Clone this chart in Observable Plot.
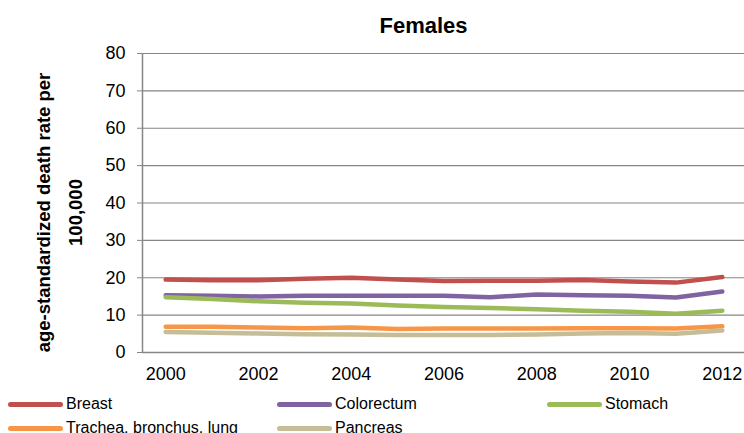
<!DOCTYPE html>
<html>
<head>
<meta charset="utf-8">
<script src="https://cdn.jsdelivr.net/npm/d3@7"></script>
<script src="https://cdn.jsdelivr.net/npm/@observablehq/plot@0.6"></script>
<style>
  html, body { margin: 0; padding: 0; background: #fff; }
  #wrap { position: relative; width: 744px; height: 433px; overflow: hidden; font-family: "Liberation Sans", Arial, sans-serif; }
  #title { position: absolute; left: 323.5px; width: 200px; top: 14px; line-height: 24px; text-align: center; font-weight: bold; font-size: 22px; color: #000; }
  #chart { position: absolute; left: 0; top: 40px; }
  .leg { position: absolute; display: flex; align-items: center; font-size: 16px; color: #000; white-space: nowrap; }
  .sw { display: inline-block; width: 55px; height: 5px; border-radius: 3px; margin-right: 3px; }
</style>
</head>
<body>
<div id="wrap">
  <div id="title">Females</div>
  <div id="chart"></div>
  <div id="legend"></div>
</div>
<script>
const years = [2000, 2001, 2002, 2003, 2004, 2005, 2006, 2007, 2008, 2009, 2010, 2011, 2012];
const seriesNames = ["Breast", "Colorectum", "Stomach", "Trachea, bronchus, lung", "Pancreas"];
const breast     = [19.5, 19.3, 19.3, 19.7, 20.0, 19.5, 19.1, 19.2, 19.2, 19.4, 19.0, 18.7, 20.2];
const colorectum = [15.3, 15.2, 15.0, 15.2, 15.2, 15.2, 15.2, 14.8, 15.5, 15.3, 15.2, 14.7, 16.3];
const stomach    = [14.8, 14.3, 13.7, 13.3, 13.1, 12.6, 12.2, 11.9, 11.6, 11.2, 10.9, 10.4, 11.2];
const trachea    = [6.9, 6.9, 6.7, 6.5, 6.7, 6.3, 6.4, 6.4, 6.4, 6.5, 6.5, 6.4, 7.0];
const pancreas   = [5.5, 5.3, 5.1, 4.9, 4.8, 4.7, 4.7, 4.7, 4.8, 5.1, 5.2, 5.0, 5.9];
const seriesColors = ["#C0504D", "#8064A2", "#9BBB59", "#F79646", "#C4BD97"];
const yTicks = [0, 10, 20, 30, 40, 50, 60, 70, 80];
const xTicks = [2000, 2002, 2004, 2006, 2008, 2010, 2012];
const yLabelLines = ["age-standardized death rate per", "100,000"];

const allSeries = [breast, colorectum, stomach, trachea, pancreas];
const data = [];
seriesNames.forEach((name, i) => {
  years.forEach((yr, j) => data.push({series: name, year: yr, value: allSeries[i][j]}));
});

const grid = "#868686";
const plot = Plot.plot({
  width: 744,
  height: 352,
  marginTop: 13,
  marginBottom: 40,
  marginLeft: 142,
  marginRight: 0,
  style: {fontFamily: "'Liberation Sans', Arial, sans-serif", fontSize: "18px", color: "#000", background: "transparent"},
  x: {type: "linear", domain: [1999.5, 2012.5], range: [142, 745]},
  y: {domain: [0, 80]},
  color: {domain: seriesNames, range: seriesColors},
  marks: [
    Plot.ruleY(yTicks.filter(d => d > 0), {stroke: grid, strokeWidth: 1.2}),
    Plot.ruleY([0], {stroke: grid, strokeWidth: 1.5}),
    Plot.ruleX([1999.5], {y1: 0, y2: 80, stroke: grid, strokeWidth: 1.5}),
    Plot.axisY({ticks: yTicks, tickSize: 5, tickPadding: 12, stroke: grid, fill: "#000", label: null}),
    Plot.axisX({ticks: xTicks, tickSize: 0, tickPadding: 15, tickFormat: d => String(d), fill: "#000", label: null}),
    Plot.line(data, {x: "year", y: "value", z: "series", stroke: "series", strokeWidth: 4.5, strokeLinecap: "round", strokeLinejoin: "round"}),
    Plot.text([yLabelLines[0]], {text: d => d, frameAnchor: "left", rotate: -90, dx: -98, dy: 9.5, lineAnchor: "middle", textAnchor: "middle", fontWeight: "bold", fontSize: 18.5, fill: "#000"}),
    Plot.text([yLabelLines[1]], {text: d => d, frameAnchor: "left", rotate: -90, dx: -66, dy: 9.5, lineAnchor: "middle", textAnchor: "middle", fontWeight: "bold", fontSize: 18.5, fill: "#000"})
  ]
});
document.getElementById("chart").appendChild(plot);

// legend
const legPos = [[8, 404], [277, 404], [547, 404], [8, 428], [277, 428]];
const legend = document.getElementById("legend");
seriesNames.forEach((name, i) => {
  const el = document.createElement("div");
  el.className = "leg";
  el.style.left = legPos[i][0] + "px";
  el.style.top = (legPos[i][1] - 10) + "px";
  el.style.height = "20px";
  el.innerHTML = `<span class="sw" style="background:${seriesColors[i]}"></span><span>${name}</span>`;
  legend.appendChild(el);
});
</script>
</body>
</html>
